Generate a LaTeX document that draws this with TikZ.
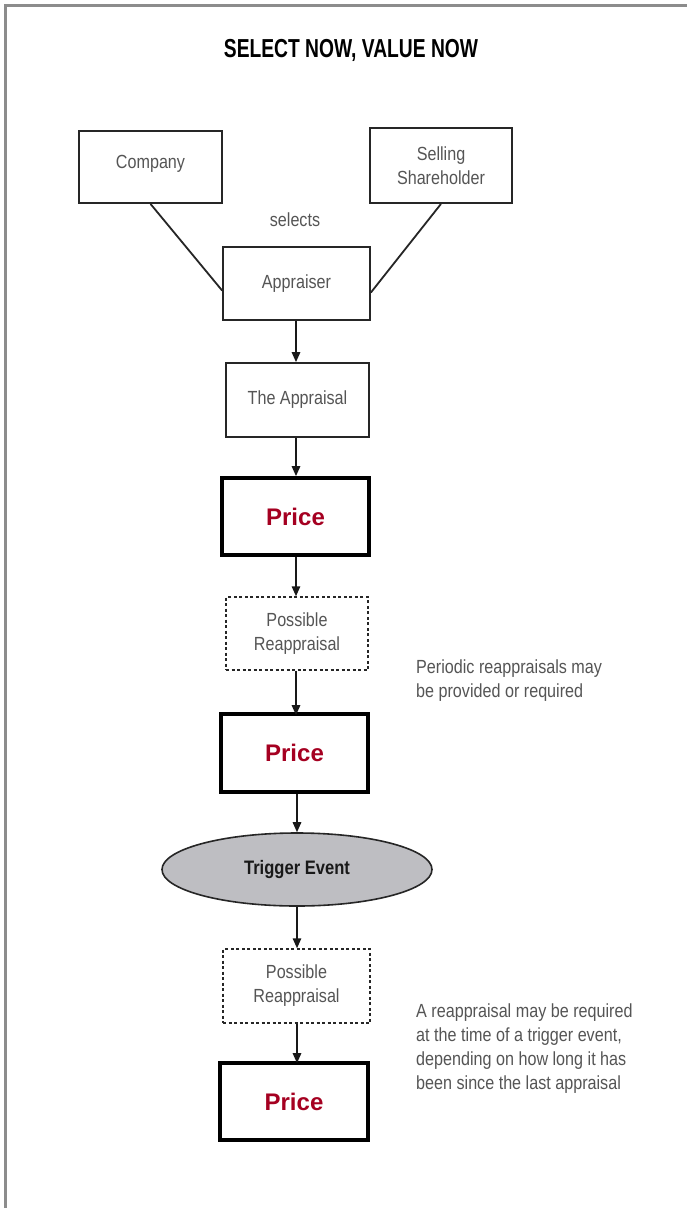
\documentclass[tikz,border=0pt]{standalone}
\usepackage{fontspec}
\usetikzlibrary{shapes.geometric,arrows.meta}
\setmainfont{Liberation Sans}
\newfontfamily\condfont[FakeStretch=0.85]{Liberation Sans}
\newfontfamily\titlefont[FakeStretch=0.74]{Liberation Sans}
\definecolor{pricered}{RGB}{165,0,33}
\definecolor{labelgray}{RGB}{85,85,85}
\definecolor{framegray}{RGB}{140,140,140}
\definecolor{eventfill}{RGB}{190,190,194}
\tikzset{
  bodyfont/.style={font=\condfont\fontsize{19}{24}\selectfont},
  plainbox/.style={draw=black!85, line width=1.8pt, minimum width=145pt, minimum height=72pt,
    inner sep=0pt, align=center, text=labelgray, bodyfont},
  pricebox/.style={draw=black, line width=3.8pt, minimum width=144pt, minimum height=74pt,
    inner sep=0pt, text=pricered, font=\bfseries\fontsize{24}{28}\selectfont},
  maybebox/.style={draw=black!85, line width=1.5pt, dash pattern=on 3pt off 2.5pt,
    minimum width=142pt, minimum height=73pt, inner sep=0pt, align=center, text=labelgray,
    bodyfont},
  eventnode/.style={ellipse, draw=black!85, line width=1.6pt, fill=eventfill,
    minimum width=270pt, minimum height=73pt, inner sep=0pt, text=black!90,
    font=\condfont\bfseries\fontsize{19.5}{22}\selectfont},
  notetext/.style={anchor=west, inner sep=0pt, align=left, text=labelgray, bodyfont},
  flow/.style={draw=black!90, line width=1.5pt, -{Triangle[length=10pt,width=8.5pt]}},
  link/.style={draw=black!85, line width=1.8pt}
}
\begin{document}
\begin{tikzpicture}[x=1pt, y=-1pt]
  \useasboundingbox (0,0) rectangle (687,1208);
  \fill[white] (0,0) rectangle (687,1208);
  % page frame along the top and left edges
  \draw[framegray, line width=3pt] (5,1208) -- (5,5.5) -- (687,5.5);

  % title
  \node[inner sep=0pt, font=\titlefont\bfseries\fontsize{26}{30}\selectfont] (title) at (351,50)
    {SELECT NOW, VALUE NOW};

  % the two parties choosing the appraiser
  \node[plainbox, minimum width=143pt, minimum height=72pt] (company) at (150.5,167) {\raisebox{10pt}{Company}};
  \node[plainbox, minimum width=142pt, minimum height=75pt] (seller) at (441,165.5) {Selling\\Shareholder};
  \node[inner sep=0pt, text=labelgray, bodyfont] (selects) at (295,220) {selects};
  \node[plainbox, minimum width=147pt, minimum height=73pt] (appraiser) at (296.5,283.5) {Appraiser};
  \draw[link] (company.south) -- ([yshift=-7pt]appraiser.west);
  \draw[link] (seller.south) -- ([yshift=-9pt]appraiser.east);

  % main chain
  \node[plainbox, minimum width=143pt, minimum height=74pt] (appraisal) at (297.5,400) {\raisebox{-3pt}{The Appraisal}};
  \node[pricebox, minimum width=147pt, minimum height=77pt] (price1) at (295.5,516.5) {\raisebox{-3pt}{Price}};
  \node[maybebox] (reapp1) at (297,633.5) {Possible\\Reappraisal};
  \node[pricebox, minimum width=147pt, minimum height=78pt] (price2) at (294.5,753) {\raisebox{-3pt}{Price}};
  \node[eventnode] (event) at (297,869.5) {Trigger Event};
  \node[maybebox, minimum width=147pt, minimum height=74pt] (reapp2) at (296.5,986) {Possible\\Reappraisal};
  \node[pricebox, minimum width=148pt, minimum height=77pt] (price3) at (294,1101.5) {\raisebox{-3pt}{Price}};

  \draw[flow] (appraiser.south -| 296,0) -- (appraisal.north -| 296,0);
  \draw[flow] (appraisal.south -| 296,0) -- (price1.north -| 296,0);
  \draw[flow] (price1.south -| 296,0) -- (reapp1.north -| 296,0);
  \draw[flow] (reapp1.south -| 296,0) -- ([yshift=-3pt]price2.north -| 296,0);
  \draw[flow] (price2.south -| 297,0) -- (event.north -| 297,0);
  \draw[flow] (event.south -| 297,0) -- (reapp2.north -| 297,0);
  \draw[flow] (reapp2.south -| 297,0) -- ([yshift=-2pt]price3.north -| 297,0);

  % side notes
  \node[notetext] (note1) at (416,681) {Periodic reappraisals may\\be provided or required};
  \node[notetext] (note2) at (416,1049) {A reappraisal may be required\\at the time of a trigger event,\\depending on how long it has\\been since the last appraisal};
\end{tikzpicture}
\end{document}
